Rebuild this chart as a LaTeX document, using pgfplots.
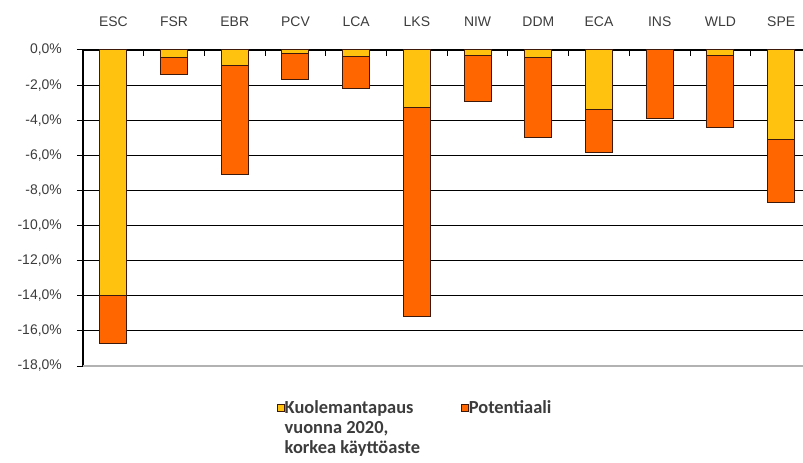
\documentclass[border=0pt]{standalone}
\usepackage{fontspec}
\setmainfont{Liberation Sans}
\newfontfamily\legfont{Carlito}
\usepackage{pgfplots}
\usepackage{pgfplotstable}
\pgfplotsset{compat=1.18}
\definecolor{cyel}{RGB}{255,194,14}
\definecolor{corg}{RGB}{255,102,0}
\definecolor{cedge}{RGB}{60,25,10}
\definecolor{ctxt}{RGB}{60,60,60}
\pgfplotstableread{
x y1 y2
0 -14.0 -2.7
1 -0.45 -0.92
2 -0.9 -6.17
3 -0.2 -1.5
4 -0.35 -1.83
5 -3.3 -11.87
6 -0.3 -2.64
7 -0.45 -4.55
8 -3.4 -2.43
9 0 -3.88
10 -0.3 -4.13
11 -5.1 -3.58
}\data
\pgfplotstableread{
x t
0.5 -0.34
1.5 -0.34
2.5 -0.34
3.5 -0.34
4.5 -0.34
5.5 -0.34
6.5 -0.34
7.5 -0.34
8.5 -0.34
9.5 -0.34
10.5 -0.34
}\sep
\begin{document}
\begin{tikzpicture}
\useasboundingbox (-83bp,-97bp) rectangle (720bp,366bp);
\begin{axis}[
  at={(0,0)}, anchor=south west,
  scale only axis, width=720bp, height=316bp,
  xmin=-0.5, xmax=11.36, ymin=-18, ymax=0,
  axis x line*=top, axis y line*=left,
  axis line style={black, line width=1.2bp},
  xtick={0.5,1.5,...,10.5},
  xticklabels={},
  extra x ticks={0,...,11},
  extra x tick labels={ESC,FSR,EBR,PCV,LCA,LKS,NIW,DDM,ECA,INS,WLD,SPE},
  extra x tick style={major tick length=0pt},
  xticklabel style={font=\fontsize{14}{16}\selectfont, text=ctxt, anchor=base, inner sep=0pt, yshift=23bp},
  tick align=outside,
  major tick length=6bp,
  x tick style={draw=none},
  y tick style={black, line width=1bp},
  ytick={-16,-14,...,0},
  extra y ticks={-18},
  extra y tick style={grid style={gray!60, line width=1.2bp}},
  ymajorgrids,
  grid style={black, line width=1.2bp},
  /pgf/number format/assume math mode=true,
  yticklabel={\pgfmathprintnumber[fixed,fixed zerofill,precision=1,use comma]{\tick}\%},
  yticklabel style={font=\fontsize{14}{16}\selectfont, text=ctxt, anchor=east, inner sep=0pt, xshift=-15bp},
  ybar stacked, bar width=27bp,
  legend cell align=left,
  legend style={at={(0.269,-0.11)}, anchor=north west, draw=none, fill=none,
    font=\legfont\bfseries\fontsize{18.5}{19}\selectfont, text=ctxt,
    legend columns=2, row sep=6bp, inner sep=0pt,
    nodes={inner sep=0pt},
    /tikz/every even column/.append style={column sep=41bp},
    /tikz/every odd column/.append style={column sep=0bp}},
  legend image code/.code={\draw[#1, line width=0.8bp] (0bp,-3.5bp) rectangle (7bp,3.5bp);},
]
\addplot[fill=cyel, draw=cedge, line width=1bp] table[x=x, y=y1] {\data};
\addlegendentry{Kuolemantapaus}
\addplot[fill=corg, draw=cedge, line width=1bp] table[x=x, y=y2] {\data};
\addlegendentry{Potentiaali}
\addlegendimage{empty legend}
\addlegendentry{vuonna 2020,}
\addlegendimage{empty legend}
\addlegendentry{}
\addlegendimage{empty legend}
\addlegendentry{korkea käyttöaste}
\end{axis}
\begin{axis}[
  at={(0,0)}, anchor=south west,
  scale only axis, width=720bp, height=316bp,
  xmin=-0.5, xmax=11.36, ymin=-18, ymax=0,
  axis lines=none, ticks=none, clip=false,
]
\addplot[ycomb, black, line width=1bp, mark=none] table[x=x, y=t] {\sep};
\end{axis}
\end{tikzpicture}
\end{document}
